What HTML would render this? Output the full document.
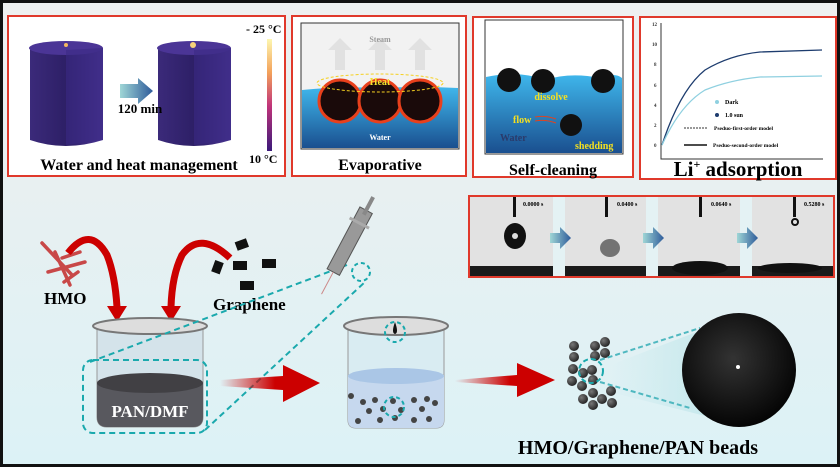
<!DOCTYPE html>
<html><head><meta charset="utf-8"><style>
html,body{margin:0;padding:0;background:#fff}
svg{display:block}
text{font-family:"Liberation Serif",serif;font-weight:bold}
</style></head><body>
<svg width="840" height="467" viewBox="0 0 840 467" xmlns="http://www.w3.org/2000/svg">
<defs>
<linearGradient id="bg" x1="0" y1="0" x2="0" y2="1"><stop offset="0" stop-color="#eef0f0"/><stop offset="0.4" stop-color="#e8f0f1"/><stop offset="1" stop-color="#dcf2f6"/></linearGradient>
<linearGradient id="water" x1="0" y1="0" x2="0" y2="1"><stop offset="0" stop-color="#3fb7ec"/><stop offset="1" stop-color="#1a4f8f"/></linearGradient>
<linearGradient id="cyl" x1="0" y1="0" x2="1" y2="0"><stop offset="0" stop-color="#3b2a7a"/><stop offset="0.5" stop-color="#2d1f66"/><stop offset="1" stop-color="#4a3593"/></linearGradient>
<linearGradient id="cbar" x1="0" y1="0" x2="0" y2="1"><stop offset="0" stop-color="#fdf7b0"/><stop offset="0.3" stop-color="#f3a15a"/><stop offset="0.6" stop-color="#c0337a"/><stop offset="1" stop-color="#3a1a7a"/></linearGradient>
<linearGradient id="redarr" x1="0" y1="0" x2="1" y2="0"><stop offset="0" stop-color="#c00" stop-opacity="0"/><stop offset="0.55" stop-color="#c00"/><stop offset="1" stop-color="#c00"/></linearGradient>
<linearGradient id="barr" x1="0" y1="0" x2="1" y2="0"><stop offset="0" stop-color="#9fd6d6"/><stop offset="1" stop-color="#2e5b9a"/></linearGradient>
<radialGradient id="sph" cx="0.45" cy="0.4" r="0.6"><stop offset="0" stop-color="#333"/><stop offset="1" stop-color="#050505"/></radialGradient>
<radialGradient id="bead" cx="0.35" cy="0.35" r="0.7"><stop offset="0" stop-color="#777"/><stop offset="1" stop-color="#222"/></radialGradient>
<linearGradient id="cone" x1="0" y1="0" x2="1" y2="0"><stop offset="0" stop-color="#bfe6ea" stop-opacity="0"/><stop offset="1" stop-color="#bfe6ea"/></linearGradient>
</defs>
<rect width="840" height="467" fill="url(#bg)"/>
<rect x="1.5" y="1.5" width="837" height="464" fill="none" stroke="#111" stroke-width="3"/>

<!-- Panel 1 -->
<rect x="8" y="16" width="277" height="160" fill="#fff" stroke="#e0392b" stroke-width="2"/>
<g>
<path d="M30 48 L30 140 Q65 152 103 140 L103 48 Z" fill="url(#cyl)"/>
<ellipse cx="66" cy="48" rx="37" ry="7" fill="#4b3596"/>
<path d="M66 50 L66 145 L103 140 L103 48 Z" fill="#3a2a83" opacity="0.6"/>
<circle cx="66" cy="45" r="2" fill="#f4b860"/>
<path d="M158 48 L158 140 Q193 152 231 140 L231 48 Z" fill="url(#cyl)"/>
<ellipse cx="194" cy="48" rx="37" ry="7" fill="#4b3596"/>
<path d="M194 50 L194 145 L231 140 L231 48 Z" fill="#3a2a83" opacity="0.6"/>
<circle cx="193" cy="45" r="3" fill="#f7d27a"/>
<polygon points="120,84 138,84 138,78 153,91 138,104 138,98 120,98" fill="url(#barr)"/>
<text x="140" y="113" font-size="13" text-anchor="middle">120 min</text>
<rect x="267" y="39" width="5" height="112" fill="url(#cbar)"/>
<text x="246" y="33" font-size="12">- 25 °C</text>
<text x="249" y="163" font-size="12">10 °C</text>
<text x="139" y="170" font-size="16" text-anchor="middle">Water and heat management</text>
</g>

<!-- Panel 2 -->
<rect x="292" y="16" width="174" height="160" fill="#fff" stroke="#e0392b" stroke-width="2"/>
<rect x="301" y="23" width="158" height="126" fill="#f2f2f2" stroke="#333"/>
<path d="M302 90 Q340 86 380 88 Q420 86 458 88 L458 148 L302 148 Z" fill="url(#water)"/>
<g fill="#ddd" opacity="0.8"><polygon points="335,70 335,50 328,50 340,38 352,50 345,50 345,70"/><polygon points="375,70 375,50 368,50 380,38 392,50 385,50 385,70"/><polygon points="415,70 415,50 408,50 420,38 432,50 425,50 425,70"/></g>
<text x="380" y="42" font-size="8" fill="#999" text-anchor="middle">Steam</text>
<g stroke="#e8401c" stroke-width="3"><circle cx="340" cy="101" r="21" fill="#1a0a0a"/><circle cx="380" cy="101" r="21" fill="#1a0a0a"/><circle cx="420" cy="101" r="21" fill="#1a0a0a"/></g>
<ellipse cx="380" cy="83" rx="63" ry="9" fill="none" stroke="#f5d020" stroke-dasharray="3 2"/>
<text x="380" y="85" font-size="10" fill="#f5e030" text-anchor="middle">Heat</text>
<text x="380" y="140" font-size="8" fill="#fff" text-anchor="middle">Water</text>
<text x="380" y="170" font-size="16" text-anchor="middle">Evaporative</text>

<!-- Panel 3 -->
<rect x="473" y="17" width="160" height="160" fill="#fff" stroke="#e0392b" stroke-width="2"/>
<rect x="485" y="20" width="138" height="134" fill="#fff" stroke="#333"/>
<path d="M486 77 Q520 70 545 80 Q570 72 600 78 Q615 72 622 78 L622 153 L486 153 Z" fill="url(#water)"/>
<circle cx="509" cy="80" r="12" fill="#111"/><circle cx="543" cy="81" r="12" fill="#111"/><circle cx="603" cy="81" r="12" fill="#111"/>
<circle cx="571" cy="125" r="11" fill="#111"/>
<text x="551" y="100" font-size="10" fill="#f5e020" text-anchor="middle" font-family="Liberation Sans,sans-serif">dissolve</text>
<text x="513" y="123" font-size="10" fill="#f5e020" font-family="Liberation Sans,sans-serif">flow</text>
<text x="575" y="149" font-size="10" fill="#f5e020" font-family="Liberation Sans,sans-serif">shedding</text>
<text x="500" y="141" font-size="10" fill="#2a3a6a" font-family="Liberation Sans,sans-serif" font-weight="normal">Water</text>
<path d="M535 117 Q545 115 556 119 M535 121 Q545 119 556 123" stroke="#d42" fill="none"/>
<text x="553" y="175" font-size="16" text-anchor="middle">Self-cleaning</text>

<!-- Panel 4 -->
<rect x="640" y="17" width="196" height="162" fill="#fff" stroke="#e0392b" stroke-width="2"/>
<path d="M661 23 L661 159 L823 159" fill="none" stroke="#333"/>
<g font-size="5" font-weight="normal" fill="#333"><text x="652" y="26">12</text><text x="652" y="46">10</text><text x="654" y="66">8</text><text x="654" y="87">6</text><text x="654" y="107">4</text><text x="654" y="127">2</text><text x="654" y="147">0</text></g>
<path d="M662 145 Q680 90 705 70 Q730 55 760 52 L822 50" fill="none" stroke="#1d3c6e" stroke-width="1.3"/>
<path d="M662 145 Q680 105 705 90 Q730 80 760 77 L822 76" fill="none" stroke="#8fd0e0" stroke-width="1.3"/>
<circle cx="717" cy="102" r="2" fill="#8fd0e0"/><text x="725" y="104" font-size="6">Dark</text>
<circle cx="717" cy="115" r="2" fill="#1d3c6e"/><text x="725" y="117" font-size="6">1.0 sun</text>
<line x1="684" y1="128" x2="707" y2="128" stroke="#333" stroke-dasharray="2 1"/><text x="714" y="130" font-size="5.5">Pseduo-first-order model</text>
<line x1="684" y1="145" x2="707" y2="145" stroke="#111" stroke-width="1.5"/><text x="713" y="147" font-size="5.5">Pseduo-second-order model</text>
<text x="738" y="176" font-size="21" text-anchor="middle">Li<tspan font-size="12" dy="-8">+</tspan><tspan dy="8"> adsorption</tspan></text>

<!-- droplet strip -->
<rect x="469" y="196" width="365" height="81" fill="#e2e2e2" stroke="#e0392b" stroke-width="2"/>
<g fill="#e4f2f4"><rect x="553" y="197" width="12" height="79"/><rect x="646" y="197" width="12" height="79"/><rect x="740" y="197" width="12" height="79"/></g>
<g fill="#1a1a1a"><rect x="470" y="266" width="83" height="10"/><rect x="565" y="266" width="81" height="10"/><rect x="658" y="266" width="82" height="10"/><rect x="752" y="266" width="81" height="10"/></g>
<rect x="513" y="197" width="3" height="20" fill="#111"/><ellipse cx="515" cy="236" rx="11" ry="13" fill="#111"/><circle cx="515" cy="236" r="3" fill="#ddd"/>
<rect x="605" y="197" width="3" height="20" fill="#111"/><ellipse cx="610" cy="248" rx="10" ry="9" fill="#444" opacity="0.7"/>
<rect x="699" y="197" width="3" height="20" fill="#111"/><ellipse cx="700" cy="268" rx="28" ry="7" fill="#111"/>
<rect x="793" y="197" width="3" height="20" fill="#111"/><circle cx="795" cy="222" r="3" fill="none" stroke="#111" stroke-width="2"/><ellipse cx="790" cy="268" rx="32" ry="5" fill="#111"/>
<g font-size="6"><text x="523" y="206">0.0000 s</text><text x="617" y="206">0.0400 s</text><text x="711" y="206">0.0640 s</text><text x="804" y="206">0.5280 s</text></g>
<g fill="url(#barr)"><polygon points="550,233 560,233 560,227 571,238 560,249 560,243 550,243"/><polygon points="643,233 653,233 653,227 664,238 653,249 653,243 643,243"/><polygon points="737,233 747,233 747,227 758,238 747,249 747,243 737,243"/></g>

<!-- HMO -->
<g stroke="#c84848" stroke-width="3.5" stroke-linecap="round"><line x1="42" y1="243" x2="72" y2="275"/><line x1="48" y1="272" x2="85" y2="262"/><line x1="55" y1="252" x2="70" y2="285"/><line x1="62" y1="258" x2="80" y2="252"/><line x1="64" y1="282" x2="78" y2="272"/></g>
<text x="44" y="304" font-size="17">HMO</text>
<path d="M68 253 Q90 225 107 255 Q115 275 117 307" fill="none" stroke="#c00" stroke-width="7"/>
<polygon points="107,306 127,306 117,322" fill="#c00"/>
<path d="M230 258 Q200 230 182 255 Q172 275 171 307" fill="none" stroke="#c00" stroke-width="7"/>
<polygon points="161,306 181,306 171,322" fill="#c00"/>
<g fill="#111"><rect x="236" y="240" width="12" height="9" transform="rotate(-20 242 245)"/><rect x="213" y="261" width="9" height="12" transform="rotate(20 217 267)"/><rect x="233" y="261" width="14" height="9"/><rect x="262" y="259" width="14" height="9"/><rect x="240" y="281" width="14" height="9"/></g>
<text x="213" y="310" font-size="17">Graphene</text>

<!-- beaker 1 -->
<path d="M97 326 L97 417 Q97 427 107 427 L193 427 Q203 427 203 417 L203 326" fill="#d4e3ea" stroke="#999"/>
<ellipse cx="150" cy="326" rx="57" ry="8" fill="#ddd" stroke="#777" stroke-width="2"/>
<path d="M97 383 L97 417 Q97 427 107 427 L193 427 Q203 427 203 417 L203 383 Z" fill="#58585e"/>
<ellipse cx="150" cy="383" rx="53" ry="10" fill="#414044"/>
<text x="150" y="417" font-size="17" fill="#fff" text-anchor="middle">PAN/DMF</text>
<rect x="83" y="360" width="124" height="73" rx="10" fill="none" stroke="#1aa9ad" stroke-width="2" stroke-dasharray="6 4"/>
<g stroke="#1aa9ad" stroke-width="2" stroke-dasharray="6 4"><line x1="90" y1="362" x2="347" y2="265"/><line x1="205" y1="430" x2="365" y2="282"/></g>

<!-- syringe -->
<g transform="rotate(28 345 250)"><rect x="338" y="205" width="14" height="70" fill="#999" stroke="#555"/><rect x="343" y="190" width="4" height="20" fill="#888"/><rect x="334" y="218" width="22" height="3" fill="#aaa"/><line x1="345" y1="275" x2="345" y2="300" stroke="#c88"/></g>
<circle cx="361" cy="272" r="9" fill="none" stroke="#1aa9ad" stroke-width="2" stroke-dasharray="4 3"/>

<!-- red arrow 1 -->
<polygon points="220,380 283,376 283,365 320,383 283,402 283,390 220,386" fill="url(#redarr)"/>

<!-- beaker 2 -->
<path d="M348 328 L348 420 Q348 428 356 428 L436 428 Q444 428 444 420 L444 328" fill="#d9ecf2" stroke="#999"/>
<path d="M348 375 L348 420 Q348 428 356 428 L436 428 Q444 428 444 420 L444 375 Z" fill="#c6d8ee"/>
<ellipse cx="396" cy="376" rx="48" ry="8" fill="#aac6e6"/>
<ellipse cx="396" cy="326" rx="52" ry="9" fill="#ddd" stroke="#777" stroke-width="2"/>
<path d="M395 322 Q391 333 395 334 Q399 333 395 322" fill="#111"/>
<circle cx="395" cy="332" r="10" fill="none" stroke="#1aa9ad" stroke-width="2" stroke-dasharray="4 3"/>
<g fill="#444"><circle cx="351" cy="396" r="3"/><circle cx="363" cy="402" r="3"/><circle cx="375" cy="400" r="3"/><circle cx="393" cy="401" r="3"/><circle cx="414" cy="400" r="3"/><circle cx="427" cy="399" r="3"/><circle cx="435" cy="403" r="3"/><circle cx="369" cy="411" r="3"/><circle cx="383" cy="409" r="3"/><circle cx="401" cy="410" r="3"/><circle cx="422" cy="409" r="3"/><circle cx="358" cy="421" r="3"/><circle cx="380" cy="420" r="3"/><circle cx="395" cy="418" r="3"/><circle cx="414" cy="420" r="3"/><circle cx="429" cy="419" r="3"/></g>
<circle cx="394" cy="407" r="10" fill="none" stroke="#1aa9ad" stroke-width="2" stroke-dasharray="4 3"/>

<!-- red arrow 2 -->
<polygon points="455,380 517,375 517,363 555,380 517,397 517,386 455,382" fill="url(#redarr)"/>

<!-- beads -->
<polygon points="610,365 741,315 741,425 610,392" fill="url(#cone)"/>
<g fill="url(#bead)">
<circle cx="574" cy="346" r="5"/><circle cx="595" cy="346" r="5"/><circle cx="605" cy="342" r="5"/><circle cx="574" cy="357" r="5"/><circle cx="595" cy="356" r="5"/><circle cx="605" cy="353" r="5"/>
<circle cx="573" cy="369" r="5"/><circle cx="583" cy="373" r="5"/><circle cx="592" cy="370" r="5"/><circle cx="572" cy="381" r="5"/><circle cx="582" cy="386" r="5"/><circle cx="593" cy="380" r="5"/>
<circle cx="593" cy="393" r="5"/><circle cx="611" cy="391" r="5"/><circle cx="583" cy="399" r="5"/><circle cx="602" cy="399" r="5"/><circle cx="612" cy="403" r="5"/><circle cx="593" cy="405" r="5"/></g>
<circle cx="591" cy="371" r="12" fill="none" stroke="#1aa9ad" stroke-width="2" stroke-dasharray="5 3"/>
<g stroke="#4fb8c0" stroke-width="2" stroke-dasharray="5 3"><line x1="600" y1="360" x2="700" y2="328"/><line x1="600" y1="382" x2="690" y2="408"/></g>
<circle cx="739" cy="370" r="57" fill="url(#sph)"/>
<circle cx="738" cy="367" r="2" fill="#fff"/>
<text x="638" y="454" font-size="20" text-anchor="middle">HMO/Graphene/PAN beads</text>
</svg>
</body></html>
